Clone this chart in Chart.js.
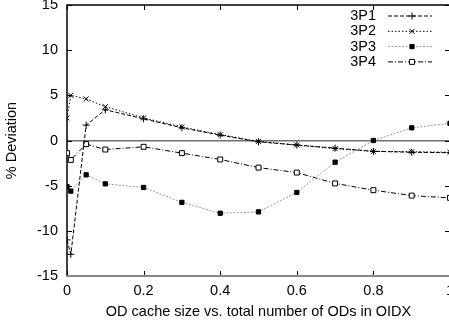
<!DOCTYPE html>
<html>
<head>
<meta charset="utf-8">
<script src="https://cdn.jsdelivr.net/npm/chart.js"></script>
<style>
  html, body { margin: 0; padding: 0; background: #fff; overflow: hidden; }
</style>
</head>
<body>
<canvas id="chart" width="470" height="327"></canvas>
<script>
// OD cache size / total ODs, and % deviation per configuration
const cacheRatio = [0, 0.01, 0.05, 0.1, 0.2, 0.3, 0.4, 0.5, 0.6, 0.7, 0.8, 0.9, 1.0];
const dev3P1 = [-11.0, -12.6, 1.7, 3.4, 2.4, 1.4, 0.6, -0.15, -0.5, -0.85, -1.2, -1.3, -1.35];
const dev3P2 = [2.5, 5.0, 4.6, 3.75, 2.5, 1.5, 0.65, -0.1, -0.5, -0.9, -1.2, -1.25, -1.3];
const dev3P3 = [-5.1, -5.6, -3.8, -4.8, -5.2, -6.85, -8.05, -7.9, -5.75, -2.4, 0.0, 1.4, 1.9];
const dev3P4 = [-1.4, -2.15, -0.4, -1.0, -0.7, -1.4, -2.1, -3.0, -3.55, -4.75, -5.5, -6.1, -6.35];
const seriesNames = ["3P1", "3P2", "3P3", "3P4"];
const yTicks = [-15, -10, -5, 0, 5, 10, 15];
const xTicks = [0, 0.2, 0.4, 0.6, 0.8, 1];

const FONT = "'Liberation Sans', Arial, sans-serif";

const toPoints = (ys) => cacheRatio.map((x, i) => ({ x: x, y: ys[i] }));

// gnuplot-like frame with inward ticks, and the key in the top right
const framePlugin = {
    id: "frame",
    beforeDatasetsDraw(chart) {
        const { ctx, chartArea: a, scales } = chart;
        ctx.save();
        ctx.lineWidth = 1;
        ctx.strokeStyle = "#000";
        ctx.beginPath();
        yTicks.forEach((v) => {
            const y = Math.round(scales.y.getPixelForValue(v)) + 0.5;
            ctx.moveTo(a.left, y); ctx.lineTo(a.left + 5, y);
            ctx.moveTo(a.right, y); ctx.lineTo(a.right - 5, y);
        });
        xTicks.forEach((v) => {
            const x = Math.round(scales.x.getPixelForValue(v)) + 0.5;
            ctx.moveTo(x, a.bottom); ctx.lineTo(x, a.bottom - 5);
            ctx.moveTo(x, a.top); ctx.lineTo(x, a.top + 5);
        });
        ctx.stroke();

        ctx.lineWidth = 1.5;
        ctx.beginPath();
        ctx.moveTo(a.left, a.bottom); ctx.lineTo(a.left, a.top); ctx.lineTo(a.right, a.top);
        ctx.lineTo(a.right, a.bottom);
        ctx.stroke();
        ctx.strokeStyle = "#888";
        ctx.lineWidth = 2;
        ctx.beginPath();
        ctx.moveTo(a.left - 0.75, a.bottom); ctx.lineTo(a.right, a.bottom);
        ctx.stroke();
        ctx.restore();
    },
    afterDraw(chart) {
        const { ctx } = chart;
        ctx.save();
        ctx.font = "14.5px " + FONT;
        ctx.textAlign = "right";
        ctx.textBaseline = "middle";
        chart.data.datasets.forEach((ds, i) => {
            const y = 16 + i * 15.3;
            ctx.fillStyle = "#000";
            ctx.fillText(ds.label, 376, y);
            ctx.strokeStyle = ds.borderColor;
            ctx.lineWidth = ds.borderWidth;
            ctx.setLineDash(ds.borderDash);
            ctx.beginPath();
            ctx.moveTo(388, y); ctx.lineTo(432, y);
            ctx.stroke();
            ctx.setLineDash([]);
            ctx.strokeStyle = ds.pointBorderColor;
            ctx.fillStyle = ds.pointBackgroundColor;
            ctx.lineWidth = ds.pointBorderWidth;
            Chart.helpers.drawPoint(ctx, {
                pointStyle: ds.pointStyle, radius: ds.pointRadius,
                borderWidth: ds.pointBorderWidth, rotation: 0
            }, 412, y);
        });
        ctx.restore();
    }
};

new Chart(document.getElementById("chart"), {
    type: "line",
    data: {
        datasets: [
            {
                label: seriesNames[0], data: toPoints(dev3P1),
                borderColor: "#000", borderWidth: 1, borderDash: [4, 2],
                pointStyle: "cross", pointRadius: 3.5, pointBorderWidth: 1,
                pointBorderColor: "#000", pointBackgroundColor: "#000"
            },
            {
                label: seriesNames[1], data: toPoints(dev3P2),
                borderColor: "#000", borderWidth: 1, borderDash: [1.5, 2],
                pointStyle: "crossRot", pointRadius: 3.5, pointBorderWidth: 1,
                pointBorderColor: "#000", pointBackgroundColor: "#000"
            },
            {
                label: seriesNames[2], data: toPoints(dev3P3),
                borderColor: "#999", borderWidth: 1, borderDash: [2, 1.5],
                pointStyle: "rect", pointRadius: 3, pointBorderWidth: 1,
                pointBorderColor: "#000", pointBackgroundColor: "#000"
            },
            {
                label: seriesNames[3], data: toPoints(dev3P4),
                borderColor: "#000", borderWidth: 1, borderDash: [5, 2, 1, 2],
                pointStyle: "rect", pointRadius: 3.5, pointBorderWidth: 1,
                pointBorderColor: "#000", pointBackgroundColor: "#fff"
            }
        ]
    },
    options: {
        responsive: false,
        animation: false,
        layout: { padding: { top: 5, right: 20, left: 0, bottom: 0 } },
        plugins: {
            legend: { display: false },
            tooltip: { enabled: false }
        },
        scales: {
            x: {
                type: "linear",
                min: 0,
                max: 1,
                afterBuildTicks: (s) => { s.ticks = xTicks.map((v) => ({ value: v })); },
                afterFit: (s) => { s.height = 51; s.paddingLeft = 0; s.paddingRight = 0; },
                ticks: {
                    color: "#000",
                    padding: 6,
                    maxRotation: 0,
                    font: { family: FONT, size: 14.5 },
                    callback: (v) => String(Math.round(v * 10) / 10)
                },
                grid: { display: false, drawTicks: false },
                border: { display: false },
                title: {
                    display: true,
                    text: "OD cache size vs. total number of ODs in OIDX",
                    color: "#000",
                    font: { family: FONT, size: 14.5 },
                    padding: { top: 0, bottom: 6 }
                }
            },
            y: {
                min: -15,
                max: 15,
                afterBuildTicks: (s) => { s.ticks = yTicks.map((v) => ({ value: v })); },
                afterFit: (s) => { s.width = 67; s.paddingTop = 0; s.paddingBottom = 0; },
                ticks: {
                    color: "#000",
                    padding: 9,
                    font: { family: FONT, size: 14.5 },
                    callback: (v) => String(v)
                },
                grid: {
                    drawTicks: false,
                    lineWidth: (c) => (c.tick && c.tick.value === 0 ? 1.5 : 0),
                    color: (c) => (c.tick && c.tick.value === 0 ? "#707070" : "rgba(0,0,0,0)")
                },
                border: { display: false },
                title: {
                    display: true,
                    text: "% Deviation",
                    color: "#000",
                    font: { family: FONT, size: 14.5 },
                    padding: { top: 3.5, bottom: 0 }
                }
            }
        }
    },
    plugins: [framePlugin]
});
</script>
</body>
</html>
